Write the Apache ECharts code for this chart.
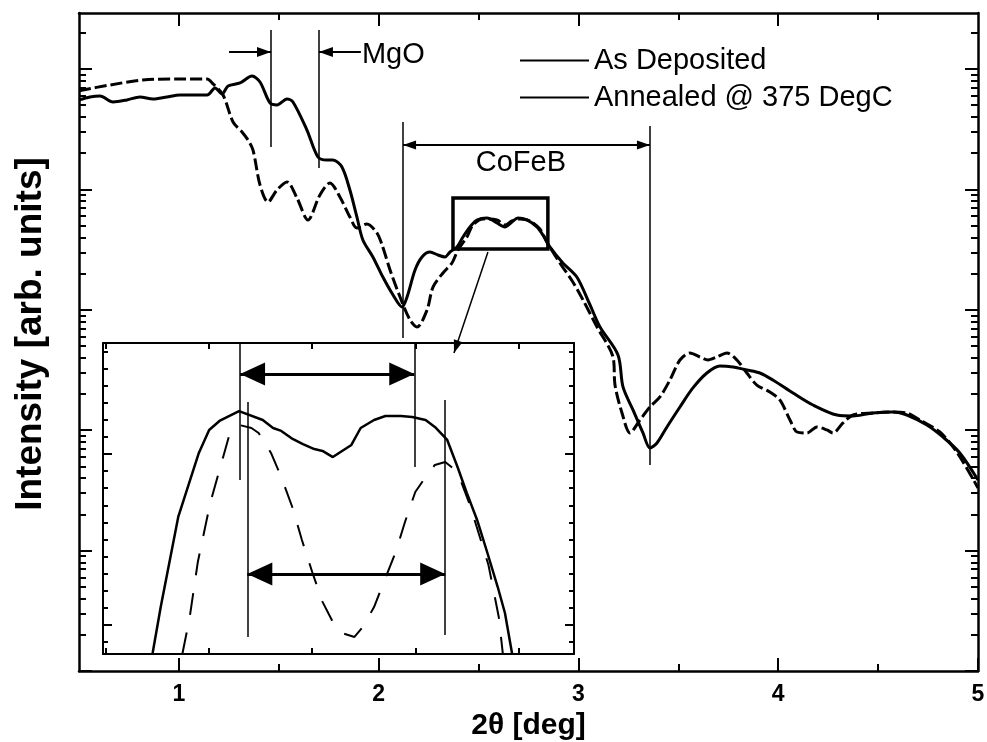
<!DOCTYPE html>
<html>
<head>
<meta charset="utf-8">
<script src="https://cdn.jsdelivr.net/npm/echarts@6/dist/echarts.min.js"></script>
<style>html,body{margin:0;padding:0;background:#fff}#c{width:987px;height:742px}</style>
</head>
<body>
<div id="c"></div>
<script>
// ---------- data (2θ in deg, log10 of intensity in arb. units) ----------
const twoThetaAsDeposited = [0.50,0.555,0.605,0.670,0.740,0.805,0.870,0.940,1.005,1.141,1.181,1.216,1.246,1.306,1.366,1.406,1.456,1.491,1.541,1.571,1.641,1.696,1.741,1.771,1.816,1.856,1.891,1.921,1.971,2.021,2.072,2.117,2.142,2.182,2.217,2.257,2.297,2.332,2.357,2.392,2.422,2.457,2.492,2.542,2.592,2.632,2.667,2.697,2.742,2.792,2.822,2.857,2.922,2.992,3.058,3.108,3.198,3.223,3.273,3.323,3.358,3.393,3.443,3.508,3.573,3.643,3.708,3.773,3.843,3.908,3.973,4.074,4.174,4.294,4.374,4.474,4.574,4.644,4.744,4.824,4.909,5.0];
const logIntensityAsDeposited = [4.743,4.768,4.776,4.726,4.743,4.768,4.751,4.768,4.784,4.784,4.842,4.792,4.859,4.884,4.942,4.892,4.718,4.701,4.751,4.726,4.493,4.269,4.244,4.244,4.186,3.995,3.771,3.580,3.439,3.272,3.123,3.023,3.106,3.331,3.439,3.480,3.455,3.439,3.480,3.522,3.605,3.688,3.746,3.763,3.721,3.688,3.729,3.763,3.746,3.688,3.621,3.522,3.389,3.272,3.040,2.857,2.625,2.359,2.168,1.977,1.852,1.894,2.027,2.193,2.351,2.475,2.533,2.525,2.500,2.475,2.417,2.309,2.209,2.126,2.118,2.143,2.151,2.126,2.043,1.944,1.811,1.586];

const twoThetaAnnealed = [0.50,0.655,0.820,0.990,1.141,1.171,1.221,1.271,1.316,1.346,1.371,1.406,1.446,1.491,1.541,1.591,1.646,1.706,1.756,1.806,1.856,1.891,1.941,1.991,2.017,2.057,2.107,2.157,2.192,2.242,2.272,2.322,2.367,2.397,2.442,2.472,2.522,2.592,2.632,2.667,2.707,2.757,2.807,2.842,2.907,2.972,3.023,3.093,3.173,3.183,3.218,3.258,3.308,3.358,3.408,3.458,3.508,3.558,3.608,3.648,3.693,3.743,3.793,3.843,3.893,3.958,4.008,4.059,4.094,4.144,4.194,4.244,4.274,4.324,4.374,4.474,4.574,4.644,4.709,4.809,4.894,5.0];
const logIntensityAnnealed = [4.820,4.867,4.909,4.917,4.917,4.876,4.784,4.560,4.477,4.410,4.327,4.037,3.895,3.995,4.062,3.929,3.746,3.954,4.053,3.937,3.771,3.679,3.713,3.638,3.538,3.331,3.106,2.915,2.857,2.998,3.189,3.306,3.389,3.497,3.605,3.704,3.754,3.746,3.704,3.738,3.754,3.738,3.671,3.563,3.389,3.231,3.081,2.857,2.608,2.375,2.143,1.977,2.085,2.193,2.276,2.417,2.583,2.641,2.608,2.583,2.608,2.641,2.583,2.475,2.375,2.317,2.251,2.085,1.985,1.977,2.027,2.002,1.977,2.060,2.126,2.143,2.151,2.143,2.085,1.985,1.819,1.520];

// inset (zoom of the CoFeB peak, linear scale in arb. units)
const insetTwoThetaAsDeposited = [2.345,2.353,2.370,2.390,2.400,2.410,2.429,2.452,2.462,2.470,2.481,2.491,2.502,2.510,2.520,2.538,2.547,2.560,2.571,2.586,2.597,2.610,2.619,2.631,2.641,2.650,2.660,2.670,2.680,2.687,2.694];
const insetValueAsDeposited = [-1.70,1.05,6.32,10.06,11.40,11.93,12.51,11.99,11.52,11.35,10.88,10.58,10.29,10.18,9.82,10.53,11.52,11.99,12.22,12.22,12.16,11.99,11.58,10.82,9.24,7.72,6.14,4.21,2.22,0.70,-1.70];
const insetTwoThetaAnnealed = [2.374,2.381,2.389,2.401,2.410,2.419,2.429,2.441,2.448,2.460,2.470,2.481,2.490,2.500,2.510,2.520,2.529,2.541,2.549,2.560,2.571,2.581,2.590,2.600,2.610,2.619,2.629,2.641,2.653,2.671,2.681,2.685];
const insetValueAnnealed = [-1.70,0.41,3.68,7.13,9.06,10.99,11.70,11.52,11.23,10.06,8.65,6.84,4.97,3.10,1.35,0.18,-0.47,-0.70,-0.12,1.05,2.75,4.27,6.02,7.78,8.65,9.36,9.53,8.95,7.02,3.51,0.47,-1.70];

const seriesNames = ['As Deposited', 'Annealed @ 375 DegC'];
const xTickLabels = [1, 2, 3, 4, 5];

// ---------- helpers ----------
const L = v => Math.pow(10, v);
const FONT = '"Liberation Sans", Arial, Helvetica, sans-serif';
const yMax = L(5.465);
const majorY = [1, 10, 100, 1000, 10000, 100000];
const minorY = [];
for (let n = 0; n <= 5; n++) for (let k = 2; k <= 9; k++) { const v = k * Math.pow(10, n); if (v < yMax) minorY.push(v); }
const insetYMajor = [0, 10];
const insetYMinor = [];
for (let v = -1; v <= 16; v++) if (v !== 0 && v !== 10) insetYMinor.push(v);
const insetXTicks = [2.3, 2.4, 2.5, 2.6, 2.7];

const black = '#000';
const noLine = {show: false, onZero: false};
const tickSt = {color: black, width: 2};

function xA(grid, pos, min, max, ticks, len, showLine, lw, extra) {
  return Object.assign({
    gridIndex: grid, type: 'value', position: pos, min: min, max: max,
    axisLine: showLine ? {onZero: false, lineStyle: {color: black, width: lw}} : noLine,
    axisTick: {inside: true, length: len, customValues: ticks, lineStyle: tickSt},
    axisLabel: {show: false}, splitLine: {show: false}, minorTick: {show: false}
  }, extra || {});
}
function yA(grid, type, pos, min, max, ticks, len, showLine, lw, extra) {
  const o = {
    gridIndex: grid, type: type, position: pos, min: min, max: max,
    axisLine: showLine ? {onZero: false, lineStyle: {color: black, width: lw}} : noLine,
    axisTick: {inside: true, length: len, customValues: ticks, lineStyle: tickSt},
    axisLabel: {show: false}, splitLine: {show: false}, minorTick: {show: false}
  };
  if (type === 'log') o.logBase = 10;
  return Object.assign(o, extra || {});
}

const tri = (w, h) => ({symbol: 'triangle', symbolSize: [w, h], symbolOffset: [0, h / 2]});
const noSym = {symbol: 'none'};

const option = {
  animation: false,
  backgroundColor: '#fff',
  textStyle: {fontFamily: FONT},
  grid: [
    {left: 79, right: 9, top: 13, bottom: 71, outerBoundsMode: 'none'},
    {left: 103, top: 343, width: 471, height: 311, outerBoundsMode: 'none'}
  ],
  legend: {
    data: seriesNames, orient: 'vertical', left: 520, top: 46, padding: 0,
    itemWidth: 69, itemHeight: 2, itemGap: 8, icon: 'rect', selectedMode: false,
    textStyle: {fontSize: 29, color: black, fontFamily: FONT}
  },
  xAxis: [
    xA(0, 'bottom', 0.5, 5, xTickLabels, 13, true, 2.5, {
      axisLabel: {show: true, customValues: xTickLabels, fontSize: 23, fontWeight: 'bold', color: black, margin: 12, fontFamily: FONT},
      name: '2θ [deg]', nameLocation: 'middle', nameGap: 40,
      nameTextStyle: {fontSize: 30, fontWeight: 'bold', color: black, fontFamily: FONT}
    }),
    xA(0, 'bottom', 0.5, 5, [1.5, 2.5, 3.5, 4.5], 7, false),
    xA(0, 'top', 0.5, 5, [1, 2, 3, 4], 13, true, 2.5),
    xA(0, 'top', 0.5, 5, [1.5, 2.5, 3.5, 4.5], 7, false),
    xA(1, 'bottom', 2.297, 2.754, insetXTicks, 6, true, 2),
    xA(1, 'top', 2.297, 2.754, insetXTicks, 6, true, 2)
  ],
  yAxis: [
    yA(0, 'log', 'left', 1, yMax, majorY, 13, true, 2.5, {
      name: 'Intensity [arb. units]', nameLocation: 'middle', nameGap: 30,
      nameTextStyle: {fontSize: 37, fontWeight: 'bold', color: black, fontFamily: FONT, padding: [0, 0, 0, 16]}
    }),
    yA(0, 'log', 'left', 1, yMax, minorY, 7, false),
    yA(0, 'log', 'right', 1, yMax, majorY, 13, true, 2.5),
    yA(0, 'log', 'right', 1, yMax, minorY, 7, false),
    yA(1, 'value', 'left', -1.696, 16.49, insetYMajor, 9, true, 2),
    yA(1, 'value', 'left', -1.696, 16.49, insetYMinor, 5, false),
    yA(1, 'value', 'right', -1.696, 16.49, insetYMajor, 9, true, 2),
    yA(1, 'value', 'right', -1.696, 16.49, insetYMinor, 5, false)
  ],
  series: [
    {
      name: seriesNames[0], type: 'line', xAxisIndex: 0, yAxisIndex: 0,
      data: twoThetaAsDeposited.map((x, i) => [x, L(logIntensityAsDeposited[i])]),
      symbol: 'none', showSymbol: false, smooth: 0.3, silent: true,
      color: black, itemStyle: {color: black},
      lineStyle: {color: black, width: 3},
      emphasis: {disabled: true}, z: 3,
      markLine: {
        silent: true, animation: false, label: {show: false}, emphasis: {disabled: true},
        symbol: 'none',
        lineStyle: {color: black, width: 1.5, type: 'solid'},
        data: [
          // MgO guide lines
          [{coord: [1.461, L(5.324)]}, {coord: [1.461, L(4.352)]}],
          [{coord: [1.701, L(5.324)]}, {coord: [1.701, L(4.178)]}],
          // MgO arrows
          [Object.assign({coord: [1.251, L(5.141)], lineStyle: {width: 2}}, noSym), Object.assign({coord: [1.461, L(5.141)]}, tri(10, 14))],
          [Object.assign({coord: [1.911, L(5.141)], lineStyle: {width: 2}}, noSym), Object.assign({coord: [1.701, L(5.141)]}, tri(10, 14))],
          // CoFeB guide lines
          [{coord: [2.122, L(4.560)]}, {coord: [2.122, L(2.766)]}],
          [{coord: [3.358, L(4.527)]}, {coord: [3.358, L(1.711)]}],
          // CoFeB double arrow
          [Object.assign({coord: [2.122, L(4.369)], lineStyle: {width: 2}}, tri(9, 13)), Object.assign({coord: [3.358, L(4.369)]}, tri(9, 13))],
          // arrow from the box to the inset
          [Object.assign({coord: [2.547, L(3.480)], lineStyle: {width: 1.5}}, noSym), Object.assign({coord: [2.377, L(2.641)]}, tri(9, 13))]
        ]
      },
      markArea: {
        silent: true, label: {show: false}, emphasis: {disabled: true},
        itemStyle: {color: 'rgba(0,0,0,0)', borderColor: black, borderWidth: 3.5},
        data: [[{coord: [2.372, L(3.929)]}, {coord: [2.847, L(3.505)]}]]
      },
      markPoint: {
        silent: true, symbol: 'rect', symbolSize: 0, animation: false,
        label: {show: true, color: black, fontSize: 29, fontFamily: FONT},
        data: [
          {coord: [1.916, L(5.116)], value: 0, label: {formatter: 'MgO', position: 'inside', align: 'left', verticalAlign: 'middle'}},
          {coord: [2.712, L(4.219)], value: 0, label: {formatter: 'CoFeB', position: 'inside', align: 'center', verticalAlign: 'middle'}}
        ]
      }
    },
    {
      name: seriesNames[1], type: 'line', xAxisIndex: 0, yAxisIndex: 0,
      data: twoThetaAnnealed.map((x, i) => [x, L(logIntensityAnnealed[i])]),
      symbol: 'none', showSymbol: false, smooth: 0.3, silent: true,
      color: black, itemStyle: {color: black},
      lineStyle: {color: black, width: 3, type: [12, 4]},
      emphasis: {disabled: true}, z: 3
    },
    {
      name: 'inset-as-deposited', type: 'line', xAxisIndex: 4, yAxisIndex: 4,
      data: insetTwoThetaAsDeposited.map((x, i) => [x, insetValueAsDeposited[i]]),
      symbol: 'none', showSymbol: false, silent: true,
      color: black, lineStyle: {color: black, width: 2.5},
      emphasis: {disabled: true}, z: 3,
      markLine: {
        silent: true, animation: false, label: {show: false}, emphasis: {disabled: true},
        symbol: 'none',
        lineStyle: {color: black, width: 1.5, type: 'solid'},
        data: [
          [{coord: [2.430, 16.49]}, {coord: [2.430, 8.48]}],
          [{coord: [2.437, 13.04]}, {coord: [2.437, -0.70]}],
          [{coord: [2.599, 16.49]}, {coord: [2.599, 9.24]}],
          [{coord: [2.629, 13.16]}, {coord: [2.629, -0.58]}],
          [Object.assign({coord: [2.430, 14.68], lineStyle: {width: 3}}, tri(23, 25)), Object.assign({coord: [2.599, 14.68]}, tri(23, 25))],
          [Object.assign({coord: [2.437, 2.98], lineStyle: {width: 3}}, tri(23, 25)), Object.assign({coord: [2.629, 2.98]}, tri(23, 25))]
        ]
      }
    },
    {
      name: 'inset-annealed', type: 'line', xAxisIndex: 4, yAxisIndex: 4,
      data: insetTwoThetaAnnealed.map((x, i) => [x, insetValueAnnealed[i]]),
      symbol: 'none', showSymbol: false, silent: true,
      color: black, lineStyle: {color: black, width: 2, type: [22, 18]},
      emphasis: {disabled: true}, z: 3
    }
  ]
};

const chart = echarts.init(document.getElementById('c'), null, {renderer: 'canvas'});
chart.setOption(option);
</script>
</body>
</html>
